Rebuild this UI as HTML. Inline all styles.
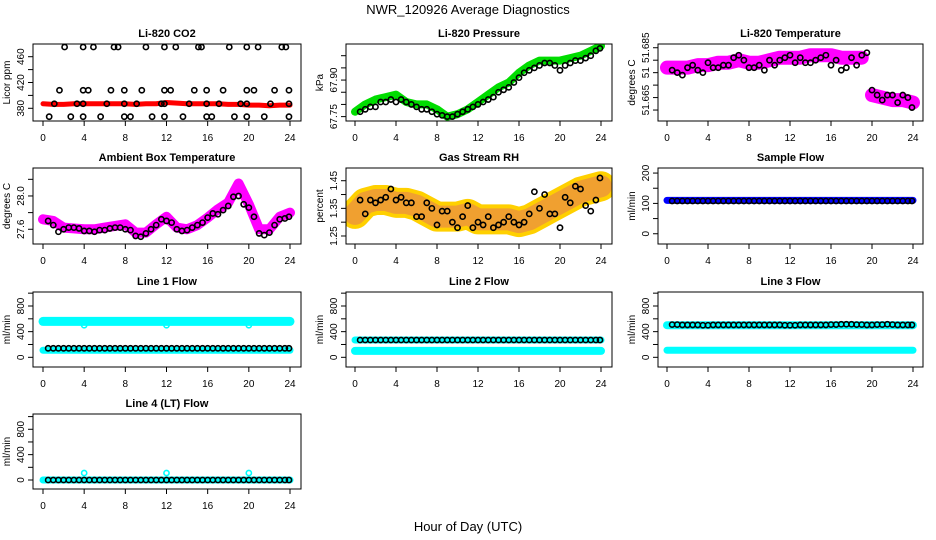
<!DOCTYPE html>
<html><head><meta charset="utf-8"><style>
body{margin:0;background:#fff}
svg{display:block;font-family:"Liberation Sans",sans-serif}
</style></head><body>
<svg id="c" width="936" height="540" viewBox="0 0 936 540">
<text x="468" y="14" text-anchor="middle" font-size="13">NWR_120926  Average Diagnostics</text>
<text x="468" y="531" text-anchor="middle" font-size="13">Hour of Day (UTC)</text>
</svg>
<script>
const HH = [0,1,2,3,4,5,6,7,8,9,10,11,12,13,14,15,16,17,18,19,20,21,22,23,24];
const HB = [0.5,1,1.5,2,2.5,3,3.5,4,4.5,5,5.5,6,6.5,7,7.5,8,8.5,9,9.5,10,10.5,11,11.5,12,12.5,13,13.5,14,14.5,15,15.5,16,16.5,17,17.5,18,18.5,19,19.5,20,20.5,21,21.5,22,22.5,23,23.5,23.9];
const xTicks = [0,4,8,12,16,20,24];

const co2Red = [387,386,386,387,387,387,387,387,387,386,387,387,389,388,387,387,387,387,386,386,385,385,384,385,385];
const co2Hours = [2.1,3.9,4.9,6.9,7.3,10,11.8,12.9,15.1,15.4,18.1,19.8,20.9,23.2,23.6,1.6,3.9,4.4,6.6,7.9,9.6,11.8,12.4,14.7,15.9,17.5,19.8,20.5,22.5,23.9,1.1,3.3,3.9,6.2,7.9,9.1,11.5,11.8,14.2,15.9,17.1,19.2,19.8,22.1,23.9,0.6,2.7,3.9,5.6,7.9,8.5,10.6,11.8,13.6,15.9,16.4,18.6,19.8,21.5,23.9];
const co2Black = [475,475,475,475,475,475,475,475,475,475,475,475,475,475,475,408,408,408,408,408,408,408,408,408,408,408,408,408,408,408,387,387,387,387,387,387,387,387,387,387,387,387,387,387,387,367,367,367,367,367,367,367,367,367,367,367,367,367,367,367];

const presGreen = [67.77,67.80,67.82,67.83,67.84,67.81,67.80,67.80,67.78,67.75,67.76,67.78,67.81,67.84,67.87,67.89,67.93,67.96,67.98,67.98,67.98,67.99,68.00,68.02,68.04];
const presBlack = [67.77,67.78,67.79,67.79,67.81,67.81,67.82,67.81,67.82,67.81,67.80,67.79,67.78,67.78,67.77,67.76,67.755,67.75,67.75,67.76,67.77,67.78,67.79,67.80,67.81,67.82,67.83,67.85,67.86,67.87,67.89,67.91,67.93,67.94,67.95,67.96,67.97,67.97,67.96,67.94,67.96,67.97,67.98,67.98,67.99,68.00,68.02,68.03];

const tempMag = [51.677,51.677,51.677,51.678,51.678,51.679,51.679,51.680,51.679,51.679,51.680,51.681,51.681,51.681,51.682,51.682,51.682,51.681,51.681,51.681,51.666,51.665,51.664,51.664,51.663];
const tempBlack = [51.676,51.675,51.674,51.677,51.678,51.676,51.675,51.679,51.677,51.677,51.678,51.678,51.681,51.682,51.680,51.677,51.677,51.678,51.676,51.680,51.678,51.680,51.681,51.682,51.679,51.681,51.679,51.679,51.680,51.681,51.682,51.678,51.680,51.676,51.677,51.681,51.678,51.682,51.683,51.668,51.666,51.664,51.666,51.666,51.663,51.666,51.665,51.661];

const ambMag = [27.72,27.70,27.62,27.61,27.60,27.60,27.62,27.64,27.66,27.56,27.56,27.66,27.75,27.62,27.60,27.65,27.74,27.84,27.92,28.15,27.90,27.60,27.60,27.75,27.80];
const ambBlack = [27.70,27.65,27.57,27.60,27.62,27.62,27.61,27.58,27.58,27.57,27.59,27.59,27.61,27.62,27.62,27.60,27.59,27.52,27.51,27.55,27.60,27.65,27.72,27.70,27.68,27.60,27.58,27.59,27.62,27.65,27.68,27.74,27.79,27.78,27.83,27.88,27.99,28.00,27.90,27.86,27.75,27.55,27.53,27.56,27.65,27.72,27.73,27.75];

const rhBand = [1.33,1.37,1.38,1.38,1.37,1.37,1.36,1.34,1.32,1.32,1.32,1.33,1.31,1.31,1.31,1.31,1.30,1.31,1.33,1.35,1.37,1.39,1.41,1.42,1.43];
const rhBlack = [1.38,1.33,1.38,1.37,1.38,1.39,1.42,1.38,1.39,1.37,1.37,1.32,1.32,1.37,1.35,1.29,1.34,1.34,1.30,1.28,1.32,1.36,1.28,1.30,1.29,1.32,1.28,1.29,1.30,1.32,1.30,1.29,1.30,1.33,1.41,1.35,1.40,1.33,1.33,1.28,1.39,1.37,1.43,1.42,1.36,1.34,1.38,1.46];

const sampBlue = [110,110,110,110,110,110,110,110,110,110,110,110,110,110,110,110,110,110,110,110,110,110,110,110,110];
const sampBlack = [108,108,108,108,108,108,108,108,108,108,108,108,108,108,108,108,108,108,108,108,108,108,108,108,108,108,108,108,108,108,108,108,108,108,108,108,108,108,108,108,108,108,108,108,108,108,108,108];

const l1CyanHi = [560,560,560,560,560,560,560,560,560,560,560,560,560,560,560,560,560,560,560,560,560,560,560,560,560];
const l1CyanLo = [110,110,110,110,110,110,110,110,110,110,110,110,110,110,110,110,110,110,110,110,110,110,110,110,110];
const l1Black = [140,140,140,140,140,140,140,140,140,140,140,140,140,140,140,140,140,140,140,140,140,140,140,140,140,140,140,140,140,140,140,140,140,140,140,140,140,140,140,140,140,140,140,140,140,140,140,140];
const l1OutHours = [4,12,20];
const l1OutVals = [500,500,500];

const l2CyanHi = [270,270,270,270,270,270,270,270,270,270,270,270,270,270,270,270,270,270,270,270,270,270,270,270,270];
const l2CyanLo = [100,100,100,100,100,100,100,100,100,100,100,100,100,100,100,100,100,100,100,100,100,100,100,100,100];
const l2Black = [270,270,270,270,270,270,270,270,270,270,270,270,270,270,270,270,270,270,270,270,270,270,270,270,270,270,270,270,270,270,270,270,270,270,270,270,270,270,270,270,270,270,270,270,270,270,270,270];

const l3CyanHi = [500,500,500,500,500,500,500,500,500,500,500,500,500,500,500,500,500,500,500,500,500,500,500,500,500];
const l3CyanLo = [110,110,110,110,110,110,110,110,110,110,110,110,110,110,110,110,110,110,110,110,110,110,110,110,110];
const l3Black = [510,510,505,505,505,505,500,500,505,505,505,505,505,505,505,505,505,505,505,505,505,505,500,500,500,505,505,505,505,505,505,510,510,515,515,515,510,510,505,505,510,510,515,510,505,505,505,505];

const l4Cyan = [0,0,0,0,0,0,0,0,0,0,0,0,0,0,0,0,0,0,0,0,0,0,0,0,0];
const l4Black = [0,0,0,0,0,0,0,0,0,0,0,0,0,0,0,0,0,0,0,0,0,0,0,0,0,0,0,0,0,0,0,0,0,0,0,0,0,0,0,0,0,0,0,0,0,0,0,0];
const l4OutHours = [4,12,20];
const l4OutVals = [110,110,110];

const svg = document.getElementById('c');
const NS = 'http://www.w3.org/2000/svg';
function mk(tag, attrs, parent){const e=document.createElementNS(NS,tag);for(const k in attrs)e.setAttribute(k,attrs[k]);(parent||svg).appendChild(e);return e;}

const COLS=[{x0:43,x1:290,bl:33,br:301},{x0:355,x1:601,bl:346,br:612},{x0:667,x1:913,bl:658,br:923}];
const ROWS=[{t:44,b:121},{t:168,b:244},{t:292,b:367},{t:414,b:489}];

function panel(col,row,title,ylab,lo,hi,ticks,labels,name){
  const C=COLS[col],R=ROWS[row];
  const g=mk('g',{});
  
  
  const sx=h=>C.x0+(C.x1-C.x0)*h/24;
  const sy=v=>R.b-(R.b-R.t)*(v-lo)/(hi-lo);
  const t=mk('text',{x:(C.bl+C.br)/2,y:R.t-7,'text-anchor':'middle','font-size':'11','font-weight':'bold'},g);
  t.textContent=title;
  
  
  const yl=mk('text',{transform:`translate(${C.bl-23},${(R.t+R.b)/2}) rotate(-90)`,'text-anchor':'middle','font-size':'10'},g);
  yl.textContent=ylab;
  
  
  const xa=mk('g',{},g);
  
  
  mk('line',{x1:sx(0),x2:sx(24),y1:R.b,y2:R.b,stroke:'#000'},xa);
  xTicks.forEach(h=>{
    mk('line',{x1:sx(h),x2:sx(h),y1:R.b,y2:R.b+5,stroke:'#000'},xa);
    const tx=mk('text',{x:sx(h),y:R.b+20,'text-anchor':'middle','font-size':'10'},xa);
    tx.textContent=h;
  });
  const ya=mk('g',{},g);
  
  
  ticks.forEach(v=>mk('line',{x1:C.bl-5,x2:C.bl,y1:sy(v),y2:sy(v),stroke:'#000'},ya));
  labels.forEach(([v,s])=>{
    const tx=mk('text',{transform:`translate(${C.bl-9},${sy(v)}) rotate(-90)`,'text-anchor':'middle','font-size':'10'},ya);
    tx.textContent=s;
  });
  const plot=mk('g',{},g);
  
  
  const clipId='cl'+col+row;
  const cp=mk('clipPath',{id:clipId},g);
  mk('rect',{x:C.bl,y:R.t,width:C.br-C.bl,height:R.b-R.t},cp);
  plot.setAttribute('clip-path',`url(#${clipId})`);
  const box=mk('rect',{x:C.bl,y:R.t,width:C.br-C.bl,height:R.b-R.t,fill:'none',stroke:'#000'},g);
  
  
  return {sx,sy,plot};
}
function band(P,hours,vals,color,w,name){
  const n=Math.min(hours.length,vals.length);
  let d='';
  for(let i=0;i<n;i++)d+=(i?'L':'M')+P.sx(hours[i])+','+P.sy(vals[i]);
  const p=mk('path',{d,fill:'none',stroke:color,'stroke-width':w,'stroke-linejoin':'round','stroke-linecap':'round'},P.plot);
  
  
}
function pts(P,hours,vals,color,name,r){
  const n=Math.min(hours.length,vals.length);
  const g=mk('g',{},P.plot);
  
  
  for(let i=0;i<n;i++){
    const c=mk('circle',{cx:P.sx(hours[i]),cy:P.sy(vals[i]),r:r||2.6,fill:'none',stroke:color,'stroke-width':1.6},g);
    
    
  }
}

let P;
P=panel(0,0,'Li-820 CO2','Licor ppm',360.3,479.7,[380,400,420,440,460],[[380,'380'],[420,'420'],[460,'460']],'co2');
band(P,HH,co2Red,'#f00',5,'co2-band');
pts(P,co2Hours,co2Black,'#000','co2-means');

P=panel(1,0,'Li-820 Pressure','kPa',67.732,68.048,[67.75,67.8,67.85,67.9,67.95,68.0],[[67.75,'67.75'],[67.9,'67.90']],'pressure');
band(P,HH,presGreen,'#0d0',8,'pressure-band');
pts(P,HB,presBlack,'#000','pressure-means');

P=panel(2,0,'Li-820 Temperature','degrees C',51.6556,51.6865,[51.66,51.665,51.67,51.675,51.68,51.685],[[51.685,'51.685'],[51.675,'51'],[51.664,'51.665']],'li820-temperature');
band(P,HH.slice(0,20),tempMag.slice(0,20),'#f0f',14,'li820-temp-band-day');
band(P,HH.slice(20),tempMag.slice(20),'#f0f',14,'li820-temp-band-night');
pts(P,HB,tempBlack,'#000','li820-temp-means');

P=panel(0,1,'Ambient Box Temperature','degrees C',27.423,28.336,[27.6,27.8,28.0,28.2],[[27.6,'27.6'],[28.0,'28.0']],'ambient');
band(P,HH,ambMag,'#f0f',10,'ambient-band');
pts(P,HB,ambBlack,'#000','ambient-means');

P=panel(1,1,'Gas Stream RH','percent',1.221,1.496,[1.25,1.3,1.35,1.4,1.45],[[1.25,'1.25'],[1.35,'1.35'],[1.45,'1.45']],'rh');
band(P,HH,rhBand,'#ffd000',30,'rh-band-outer');
band(P,HH,rhBand,'#f0a030',22,'rh-band-inner');
pts(P,HB,rhBlack,'#000','rh-means');

P=panel(2,1,'Sample Flow','ml/min',-33.8,216.7,[0,50,100,150,200],[[0,'0'],[100,'100'],[200,'200']],'sample-flow');
band(P,HH,sampBlue,'#00f',7,'sample-flow-band');
pts(P,HB,sampBlack,'#000','sample-flow-means');

P=panel(0,2,'Line 1 Flow','ml/min',-151,1018,[0,200,400,600,800,1000],[[0,'0'],[400,'400'],[800,'800']],'line1');
band(P,HH,l1CyanHi,'#0ff',9,'line1-band-high');
band(P,HH,l1CyanLo,'#0ff',7,'line1-band-low');
pts(P,l1OutHours,l1OutVals,'#0ff','line1-outliers');
pts(P,HB,l1Black,'#000','line1-means');

P=panel(1,2,'Line 2 Flow','ml/min',-151,1018,[0,200,400,600,800,1000],[[0,'0'],[400,'400'],[800,'800']],'line2');
band(P,HH,l2CyanHi,'#0ff',7,'line2-band-high');
band(P,HH,l2CyanLo,'#0ff',8,'line2-band-low');
pts(P,HB,l2Black,'#000','line2-means');

P=panel(2,2,'Line 3 Flow','ml/min',-151,1018,[0,200,400,600,800,1000],[[0,'0'],[400,'400'],[800,'800']],'line3');
band(P,HH,l3CyanHi,'#0ff',8,'line3-band-high');
band(P,HH,l3CyanLo,'#0ff',7,'line3-band-low');
pts(P,HB,l3Black,'#000','line3-means');

P=panel(0,3,'Line 4 (LT) Flow','ml/min',-142,1041,[0,200,400,600,800,1000],[[0,'0'],[400,'400'],[800,'800']],'line4');
band(P,HH,l4Cyan,'#0ff',7,'line4-band');
pts(P,l4OutHours,l4OutVals,'#0ff','line4-outliers');
pts(P,HB,l4Black,'#000','line4-means');
</script>
</body></html>
